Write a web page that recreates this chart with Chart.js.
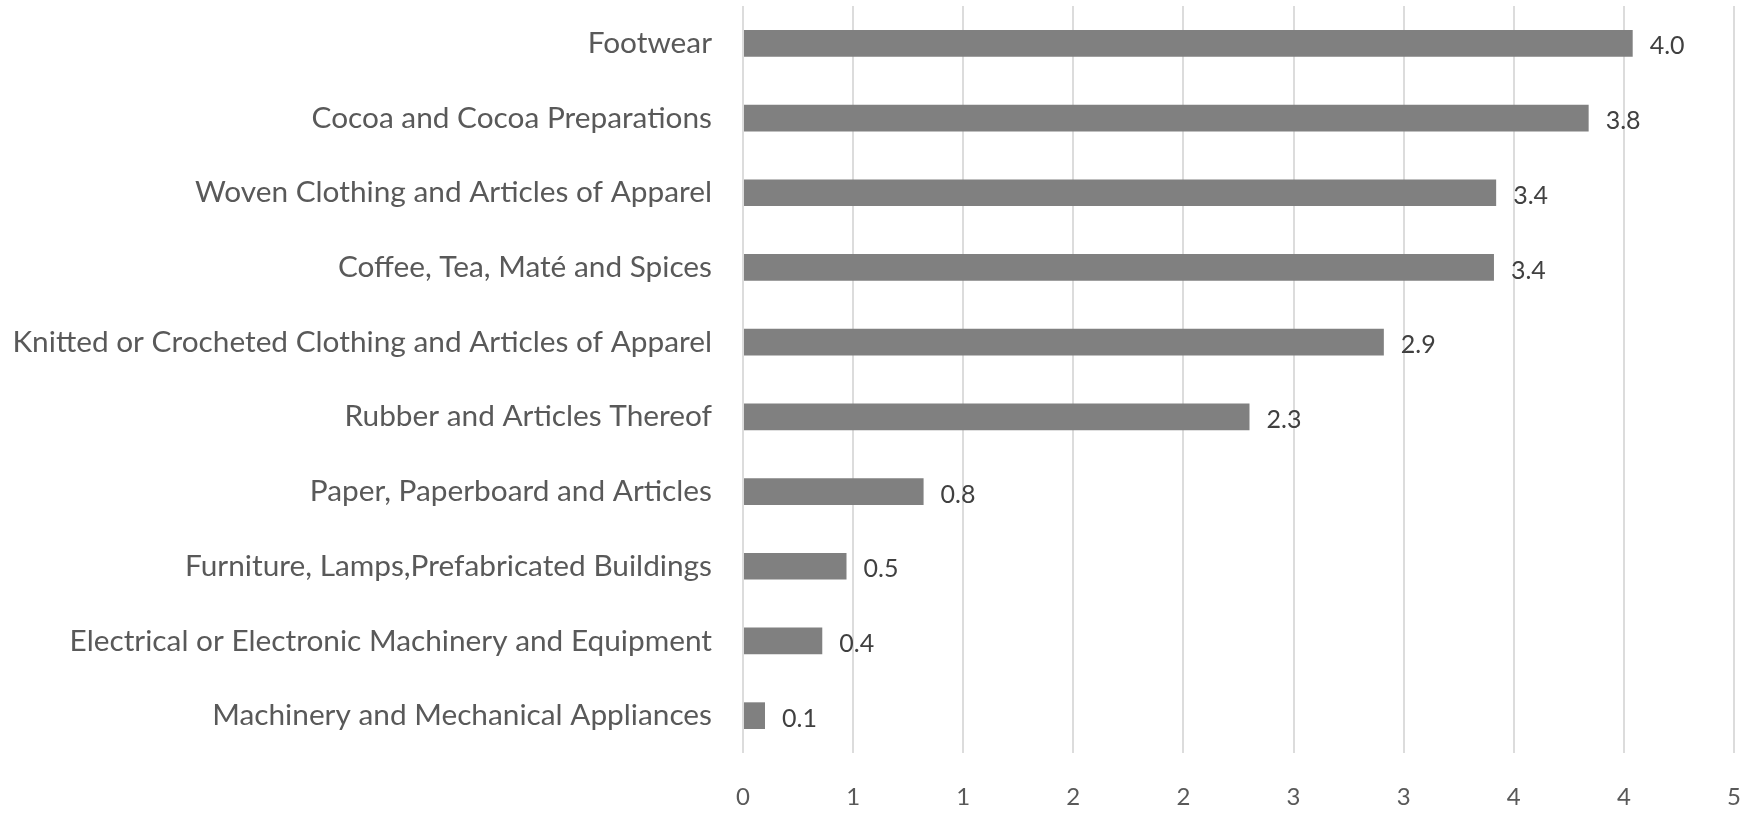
<!DOCTYPE html>
<html>
<head>
<meta charset="utf-8">
<script src="https://cdn.jsdelivr.net/npm/chart.js@4"></script>
<style>
html,body{margin:0;padding:0;background:#fff;}
#wrap{width:1756px;height:813px;position:relative;}
</style>
</head>
<body>
<div id="wrap"><canvas id="c" width="1756" height="813"></canvas></div>
<script>
const categories = [
  "Footwear",
  "Cocoa and Cocoa Preparations",
  "Woven Clothing and Articles of Apparel",
  "Coffee, Tea, Maté and Spices",
  "Knitted or Crocheted Clothing and Articles of Apparel",
  "Rubber and Articles Thereof",
  "Paper, Paperboard and Articles",
  "Furniture, Lamps,Prefabricated Buildings",
  "Electrical or Electronic Machinery and Equipment",
  "Machinery and Mechanical Appliances"
];
const values = [4.04, 3.84, 3.42, 3.41, 2.91, 2.30, 0.82, 0.47, 0.36, 0.10];
const dataLabels = ["4.0", "3.8", "3.4", "3.4", "2.9", "2.3", "0.8", "0.5", "0.4", "0.1"];
const xTickLabels = ["0", "1", "1", "2", "2", "3", "3", "4", "4", "5"];

const FONT = "Lato";
// fit category label font so the longest label spans like the reference
const mctx = document.createElement('canvas').getContext('2d');
mctx.font = "100px " + FONT;
const longest = categories.reduce((a, b) => mctx.measureText(b).width > mctx.measureText(a).width ? b : a);
const catSize = Math.round(100 * 699 / mctx.measureText(longest).width * 10) / 10;

const valueLabels = {
  id: 'valueLabels',
  afterDatasetsDraw(chart) {
    const ctx = chart.ctx;
    const meta = chart.getDatasetMeta(0);
    ctx.save();
    ctx.font = "25px " + FONT;
    ctx.fillStyle = "#404040";
    ctx.textAlign = "left";
    ctx.textBaseline = "middle";
    meta.data.forEach((bar, i) => {
      ctx.fillText(dataLabels[i], bar.x + 17, bar.y + 3);
    });
    ctx.restore();
  }
};

new Chart(document.getElementById('c'), {
  type: 'bar',
  data: {
    labels: categories,
    datasets: [{
      data: values,
      backgroundColor: '#808080',
      borderWidth: 0,
      barPercentage: 0.357,
      categoryPercentage: 1
    }]
  },
  options: {
    indexAxis: 'y',
    responsive: false,
    animation: false,
    devicePixelRatio: 1,
    layout: { padding: { top: 6, right: 22, bottom: 0, left: 0 } },
    plugins: { legend: { display: false }, tooltip: { enabled: false } },
    scales: {
      x: {
        min: 0,
        max: 4.5,
        ticks: {
          stepSize: 0.5,
          color: '#595959',
          font: { family: FONT, size: 24 },
          padding: 30,
          maxRotation: 0,
          autoSkip: false,
          callback: (v, i) => xTickLabels[i]
        },
        grid: { color: '#dcdcdc', lineWidth: 2, drawTicks: false },
        border: { display: false },
        afterFit(scale) { scale.height = 60; scale.paddingLeft = 0; scale.paddingRight = 0; }
      },
      y: {
        ticks: {
          color: '#595959',
          font: { family: FONT, size: catSize },
          padding: 31,
          autoSkip: false
        },
        grid: { display: false, drawTicks: false },
        border: { display: false },
        afterFit(scale) { scale.width = 743; scale.paddingTop = 0; scale.paddingBottom = 0; }
      }
    }
  },
  plugins: [valueLabels]
});
</script>
</body>
</html>
